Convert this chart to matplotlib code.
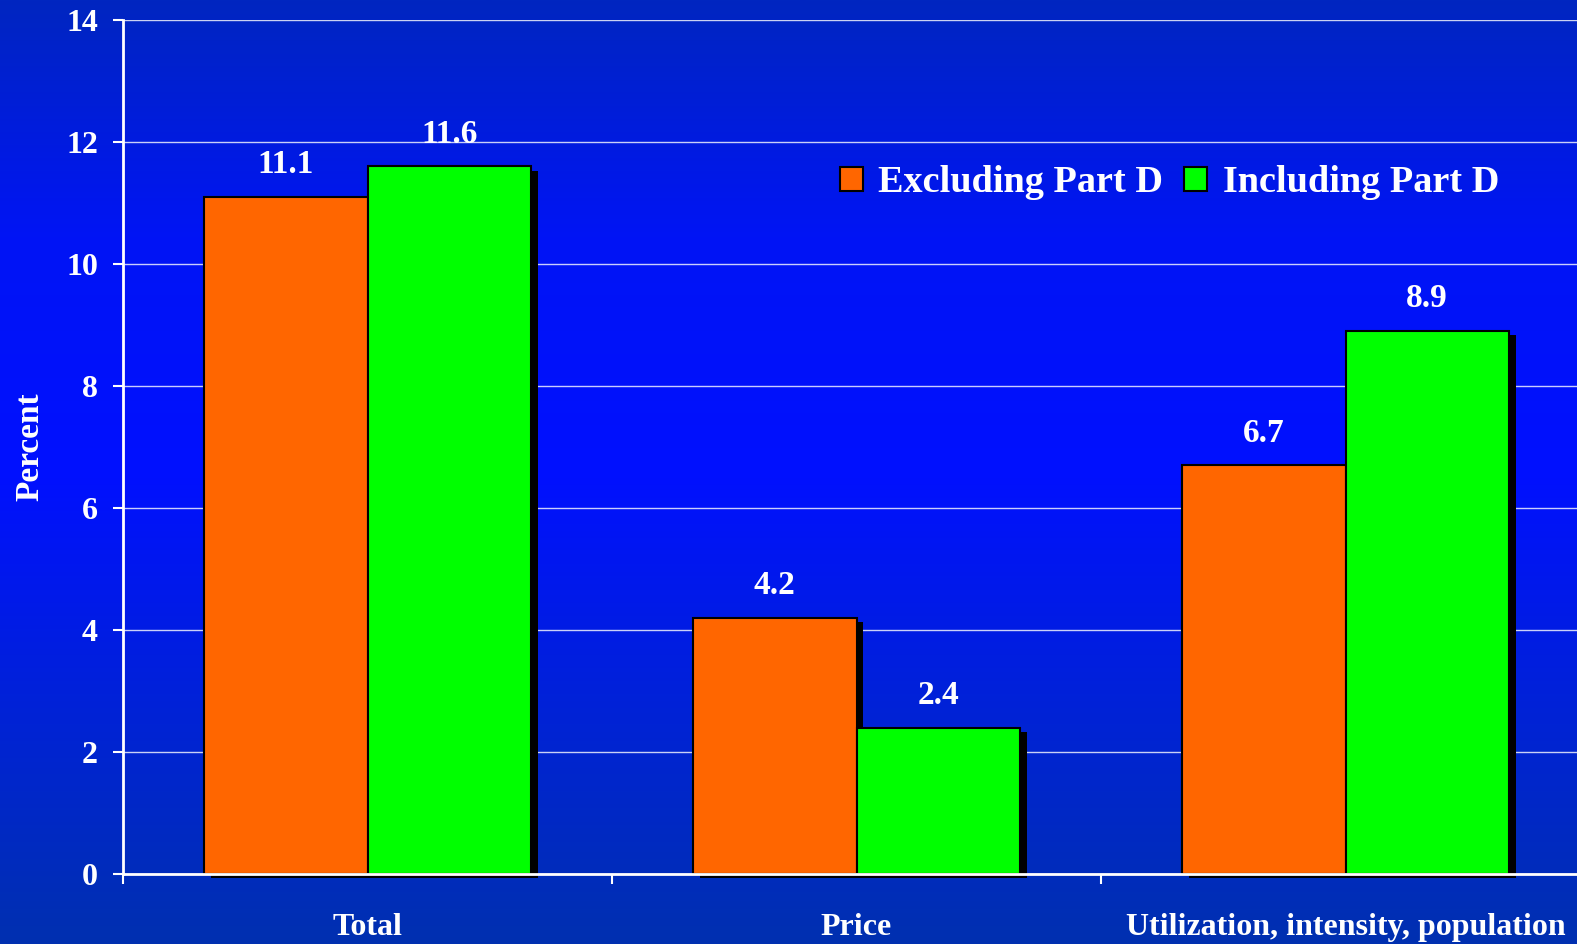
import matplotlib
matplotlib.use("Agg")
import matplotlib.pyplot as plt
import matplotlib.patheffects as pe
from matplotlib.patches import Patch
import numpy as np

# 数据
categories = ["Total", "Price", "Utilization, intensity, population"]
excluding = [11.1, 4.2, 6.7]
including = [11.6, 2.4, 8.9]
series_names = ["Excluding Part D", "Including Part D"]
yticks = [0, 2, 4, 6, 8, 10, 12, 14]

orange = "#FF6600"
green = "#00FF00"

plt.rcParams["font.family"] = ["Liberation Serif", "DejaVu Serif"]
plt.rcParams["font.weight"] = "bold"

fig = plt.figure(figsize=(15.77, 9.44), dpi=100)

# 背景渐变
bg = fig.add_axes([0, 0, 1, 1], zorder=-10)
stops = np.array([[0, 38, 192], [0, 20, 245], [0, 16, 255], [0, 34, 215], [0, 48, 176]]) / 255
pos = np.linspace(0, 1, len(stops))
t = np.linspace(0, 1, 400)
grad = np.stack([np.interp(t, pos, stops[:, i]) for i in range(3)], axis=1)
bg.imshow(grad[:, None, :], aspect="auto", extent=[0, 1, 0, 1])
bg.set_axis_off()

ax = fig.add_axes([123 / 1577, 70 / 944, 1467 / 1577, 854 / 944])
ax.set_facecolor("none")

x = np.arange(len(categories))
w = 0.334
shadow = [pe.SimplePatchShadow(offset=(5, -3), shadow_rgbFace="black", alpha=1.0), pe.Normal()]

b1 = ax.bar(x - w / 2, excluding, w, color=orange, edgecolor="black", linewidth=1.5, zorder=2)
b2 = ax.bar(x + w / 2, including, w, color=green, edgecolor="black", linewidth=1.5, zorder=2)
for bars in (b1, b2):
    for b in bars:
        b.set_path_effects(shadow)
        b.set_clip_on(False)

# 数值标签
for bars, vals in ((b1, excluding), (b2, including)):
    for b, v in zip(bars, vals):
        ax.annotate(f"{v:.1f}", (b.get_x() + b.get_width() / 2, v), xytext=(0, 17),
                    textcoords="offset points", ha="center", va="baseline",
                    color="white", fontsize=24, fontweight="bold")

ax.set_xlim(-0.5, 2.5)
ax.set_ylim(0, 14)
ax.set_yticks(yticks)
ax.yaxis.grid(True, color="white", linewidth=1, alpha=0.8)
ax.set_axisbelow(True)

ax.set_xticks(x)
ax.set_xticklabels(categories)
ax.set_xticks([-0.5, 0.5, 1.5], minor=True)
ax.tick_params(axis="x", which="major", length=0, pad=28, labelsize=23, labelcolor="white")
ax.tick_params(axis="x", which="minor", length=7, width=1.5, color="white", direction="out")
ax.tick_params(axis="y", length=7, width=1.5, color="white", pad=11, labelsize=23, labelcolor="white")

for s in ("top", "right"):
    ax.spines[s].set_visible(False)
for s in ("left", "bottom"):
    ax.spines[s].set_color("white")
    ax.spines[s].set_linewidth(2)
    ax.spines[s].set_zorder(3)

ax.set_ylabel("Percent", color="white", fontsize=24, fontweight="bold")
ax.yaxis.set_label_coords(-0.0526, 0.5)

handles = [Patch(facecolor=orange, edgecolor="black", linewidth=1.5),
           Patch(facecolor=green, edgecolor="black", linewidth=1.5)]
fig.legend(handles, series_names, loc="center right", bbox_to_anchor=(1499 / 1577, 1 - 183 / 944),
           ncol=2, frameon=False, handlelength=0.6, handleheight=0.6, handletextpad=0.4,
           columnspacing=0.55, borderpad=0, borderaxespad=0,
           prop={"size": 27.5, "weight": "bold"}, labelcolor="white")

fig.savefig("out.png", dpi=100)
